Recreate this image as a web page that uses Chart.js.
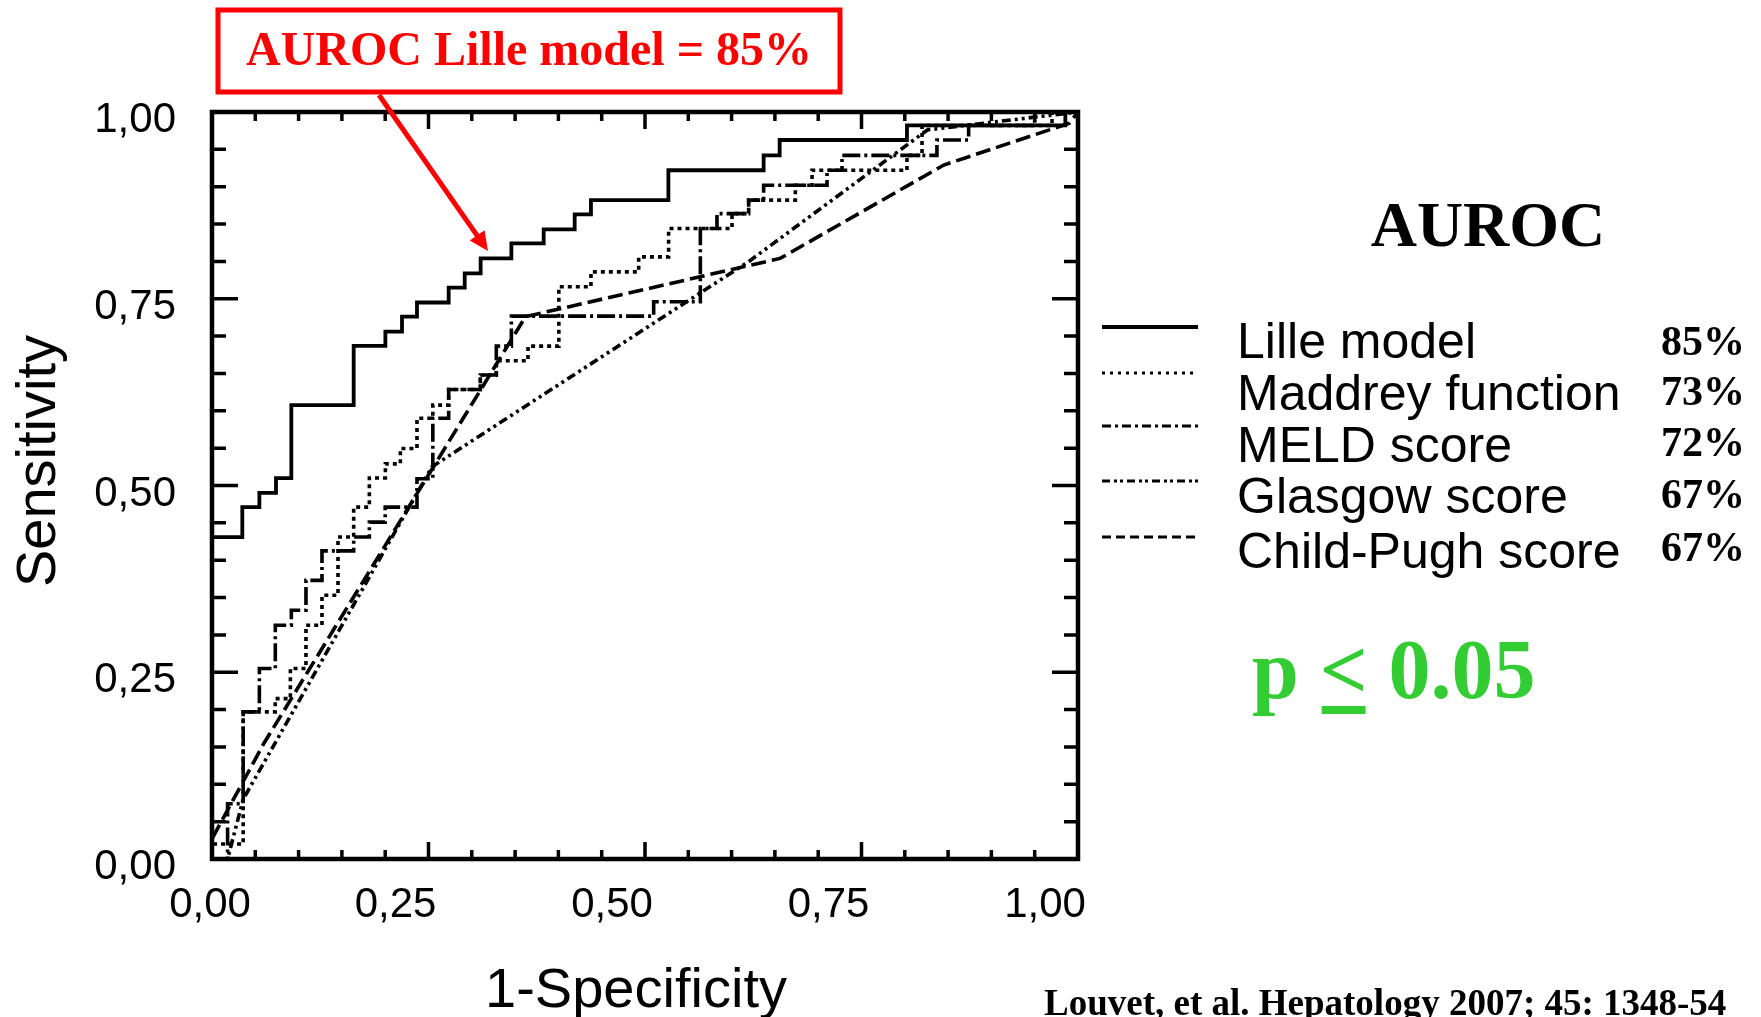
<!DOCTYPE html>
<html>
<head>
<meta charset="utf-8">
<script src="https://cdn.jsdelivr.net/npm/chart.js@4/dist/chart.umd.min.js"></script>
<style>
  html, body { margin: 0; padding: 0; background: #ffffff; }
  #wrap { width: 1761px; height: 1017px; position: relative; overflow: hidden; }
  canvas { display: block; }
</style>
</head>
<body>
<div id="wrap"><canvas id="c" width="1761" height="1017"></canvas></div>
<script>
// ---------- DATA ----------
const seriesNames = ['Lille model', 'Maddrey function', 'MELD score', 'Glasgow score', 'Child-Pugh score'];
const aurocValues = ['85%', '73%', '72%', '67%', '67%'];

const lilleFpr  = [0, 0, 0.035, 0.035, 0.0547, 0.0547, 0.0739, 0.0739, 0.0916, 0.0916, 0.1636, 0.1636, 0.2002, 0.2002, 0.2194, 0.2194, 0.2367, 0.2367, 0.2733, 0.2733, 0.2918, 0.2918, 0.3102, 0.3102, 0.3457, 0.3457, 0.383, 0.383, 0.4188, 0.4188, 0.4376, 0.4376, 0.527, 0.527, 0.637, 0.637, 0.6555, 0.6555, 0.8025, 0.8025, 0.9854, 0.9854, 1];
const lilleSens = [0, 0.431, 0.431, 0.471, 0.471, 0.490, 0.490, 0.510, 0.510, 0.6076, 0.6076, 0.687, 0.687, 0.706, 0.706, 0.726, 0.726, 0.745, 0.745, 0.765, 0.765, 0.784, 0.784, 0.804, 0.804, 0.824, 0.824, 0.843, 0.843, 0.863, 0.863, 0.882, 0.882, 0.922, 0.922, 0.942, 0.942, 0.9625, 0.9625, 0.982, 0.982, 1, 1];

const maddreyFpr  = [0, 0, 0.036, 0.036, 0.073, 0.073, 0.0905, 0.0905, 0.1085, 0.1085, 0.127, 0.127, 0.1455, 0.1455, 0.1636, 0.1636, 0.1817, 0.1817, 0.2002, 0.2002, 0.2175, 0.2175, 0.2367, 0.2367, 0.255, 0.255, 0.2733, 0.2733, 0.3098, 0.3098, 0.3283, 0.3283, 0.3649, 0.3649, 0.4005, 0.4005, 0.4376, 0.4376, 0.4927, 0.4927, 0.5273, 0.5273, 0.6005, 0.6005, 0.6197, 0.6197, 0.6736, 0.6736, 0.6929, 0.6929, 0.8025, 0.8025, 0.8199, 0.8199, 0.97, 0.97, 1];
const maddreySens = [0, 0.02, 0.02, 0.197, 0.197, 0.2147, 0.2147, 0.255, 0.255, 0.313, 0.313, 0.353, 0.353, 0.431, 0.431, 0.471, 0.471, 0.510, 0.510, 0.529, 0.529, 0.5496, 0.5496, 0.590, 0.590, 0.6076, 0.6076, 0.6286, 0.6286, 0.648, 0.648, 0.667, 0.667, 0.6866, 0.6866, 0.766, 0.766, 0.786, 0.786, 0.806, 0.806, 0.844, 0.844, 0.864, 0.864, 0.882, 0.882, 0.902, 0.902, 0.922, 0.922, 0.942, 0.942, 0.982, 0.982, 1, 1];

const meldFpr  = [0, 0.018, 0.018, 0.036, 0.036, 0.0547, 0.0547, 0.0731, 0.0731, 0.0916, 0.0916, 0.1085, 0.1085, 0.127, 0.127, 0.1636, 0.1636, 0.1817, 0.1817, 0.2, 0.2, 0.2367, 0.2367, 0.255, 0.255, 0.2733, 0.2733, 0.3098, 0.3098, 0.3283, 0.3283, 0.3457, 0.3457, 0.510, 0.510, 0.5639, 0.5639, 0.5831, 0.5831, 0.6197, 0.6197, 0.637, 0.637, 0.7102, 0.7102, 0.7275, 0.7275, 0.8371, 0.8371, 0.8737, 0.8737, 0.95, 0.95, 1];
const meldSens = [0, 0, 0.074, 0.074, 0.197, 0.197, 0.255, 0.255, 0.313, 0.313, 0.333, 0.333, 0.373, 0.373, 0.4125, 0.4125, 0.431, 0.431, 0.451, 0.451, 0.471, 0.471, 0.509, 0.509, 0.590, 0.590, 0.6286, 0.6286, 0.648, 0.648, 0.6866, 0.6866, 0.7268, 0.7268, 0.746, 0.746, 0.844, 0.844, 0.864, 0.864, 0.882, 0.882, 0.902, 0.902, 0.922, 0.922, 0.942, 0.942, 0.9625, 0.9625, 0.982, 0.982, 1, 1];

const glasgowFpr  = [0, 0.018, 0.036, 0.254, 0.62, 0.826, 1];
const glasgowSens = [0, 0, 0.08, 0.525, 0.80, 0.976, 1];

const childFpr  = [0, 0, 0.06, 0.362, 0.656, 0.845, 0.99, 1];
const childSens = [0, 0.027, 0.155, 0.726, 0.804, 0.929, 0.985, 1];

const tickValues = [0, 0.25, 0.5, 0.75, 1];
const tickLabels = ['0,00', '0,25', '0,50', '0,75', '1,00'];

// ---------- styles ----------
const SANS = '"Liberation Sans", Arial, sans-serif';
const SERIF = '"Liberation Serif", "Times New Roman", serif';
const plotDash   = [[], [4, 4], [18, 4, 3, 4], [9, 4, 3, 4, 3, 4], [15, 6]];
const legendDash = [[], [3, 5], [9, 4, 3, 4], [8, 4, 3, 3, 3, 4], [9, 5]];

function pts(xs, ys) { return xs.map((x, i) => ({ x: x, y: ys[i] })); }
const seriesData = [
  pts(lilleFpr, lilleSens),
  pts(maddreyFpr, maddreySens),
  pts(meldFpr, meldSens),
  pts(glasgowFpr, glasgowSens),
  pts(childFpr, childSens)
];

const overlay = {
  id: 'overlay',
  afterDraw(chart) {
    const ctx = chart.ctx;
    const a = chart.chartArea;
    const sx = chart.scales.x, sy = chart.scales.y;
    ctx.save();

    // frame
    ctx.strokeStyle = '#000';
    ctx.lineWidth = 4.5;
    ctx.strokeRect(a.left, a.top, a.right - a.left, a.bottom - a.top);

    // inward ticks on all four sides (minor every 0.05)
    ctx.lineWidth = 3.5;
    ctx.beginPath();
    for (let i = 1; i < 20; i++) {
      const v = i / 20;
      const major = (i % 5 === 0);
      const px = sx.getPixelForValue(v), py = sy.getPixelForValue(v);
      const lh = major ? 17 : 9, lv = major ? 26 : 14;
      ctx.moveTo(px, a.bottom); ctx.lineTo(px, a.bottom - lh);
      ctx.moveTo(px, a.top);    ctx.lineTo(px, a.top + lh);
      ctx.moveTo(a.left, py);   ctx.lineTo(a.left + lv, py);
      ctx.moveTo(a.right, py);  ctx.lineTo(a.right - lv, py);
    }
    ctx.stroke();

    // tick labels
    ctx.fillStyle = '#000';
    ctx.font = '42px ' + SANS;
    ctx.textBaseline = 'alphabetic';
    ctx.textAlign = 'right';
    tickValues.forEach((v, i) => {
      ctx.fillText(tickLabels[i], a.left - 36, sy.getPixelForValue(v) + 20);
    });
    ctx.textAlign = 'center';
    tickValues.forEach((v, i) => {
      const off = (v === 0) ? -2 : -33;
      ctx.fillText(tickLabels[i], sx.getPixelForValue(v) + off, 917);
    });

    // axis titles
    ctx.font = '56px ' + SANS;
    ctx.textAlign = 'center';
    ctx.fillText('1-Specificity', 636, 1007);
    ctx.save();
    ctx.translate(55, 461);
    ctx.rotate(-Math.PI / 2);
    ctx.fillText('Sensitivity', 0, 0);
    ctx.restore();

    // legend
    const lineY = [327, 373, 426, 481, 537];
    const textY = [358, 410, 462, 513, 568];
    const pctY  = [355, 405, 456, 508, 561];
    chart.data.datasets.forEach((ds, i) => {
      ctx.save();
      ctx.strokeStyle = '#000';
      ctx.lineWidth = i === 0 ? 3.8 : 3.2;
      ctx.setLineDash(legendDash[i]);
      ctx.beginPath();
      ctx.moveTo(1102, lineY[i]);
      ctx.lineTo(1198, lineY[i]);
      ctx.stroke();
      ctx.restore();
      ctx.font = '50px ' + SANS;
      ctx.textAlign = 'left';
      ctx.fillText(ds.label, 1237, textY[i]);
      ctx.font = 'bold 42px ' + SERIF;
      ctx.textAlign = 'right';
      ctx.fillText(aurocValues[i], 1745, pctY[i]);
    });

    // AUROC title
    ctx.font = 'bold 64px ' + SERIF;
    ctx.textAlign = 'center';
    ctx.fillText('AUROC', 1488, 246);

    // p <= 0.05 (green, underlined "<")
    ctx.fillStyle = '#33cc33';
    ctx.font = 'bold 84px ' + SERIF;
    ctx.textAlign = 'left';
    const pPart = 'p ';
    const ltPart = '<';
    const x0 = 1252;
    ctx.fillText(pPart + ltPart + ' 0.05', x0, 698);
    const wP = ctx.measureText(pPart).width;
    const wLt = ctx.measureText(ltPart).width;
    ctx.fillRect(x0 + wP + 2, 706, wLt - 4, 8);

    // citation
    ctx.fillStyle = '#000';
    ctx.font = 'bold 37px ' + SERIF;
    ctx.textAlign = 'left';
    ctx.fillText('Louvet, et al. Hepatology 2007; 45: 1348-54', 1044, 1015);

    // red annotation box
    ctx.strokeStyle = '#ff0000';
    ctx.fillStyle = '#ff0000';
    ctx.lineWidth = 5;
    ctx.strokeRect(218, 10, 622, 82);
    ctx.font = 'bold 48px ' + SERIF;
    ctx.textAlign = 'center';
    ctx.fillText('AUROC Lille model = 85%', 529, 65);

    // red arrow
    const sxA = 379, syA = 95, tx = 488, ty = 251;
    const dx = tx - sxA, dy = ty - syA, len = Math.hypot(dx, dy);
    const ux = dx / len, uy = dy / len, nx = -uy, ny = ux;
    const hl = 19, hw = 9;
    const bx = tx - ux * hl, by = ty - uy * hl;
    ctx.lineWidth = 5;
    ctx.beginPath();
    ctx.moveTo(sxA, syA);
    ctx.lineTo(bx + ux * 2, by + uy * 2);
    ctx.stroke();
    ctx.beginPath();
    ctx.moveTo(tx, ty);
    ctx.lineTo(bx + nx * hw, by + ny * hw);
    ctx.lineTo(bx - nx * hw, by - ny * hw);
    ctx.closePath();
    ctx.fill();

    ctx.restore();
  }
};

new Chart(document.getElementById('c'), {
  type: 'scatter',
  data: {
    datasets: seriesNames.map((name, i) => ({
      label: name,
      data: seriesData[i],
      showLine: true,
      borderColor: '#000000',
      backgroundColor: '#000000',
      borderWidth: i === 0 ? 3.8 : 3.6,
      borderDash: plotDash[i],
      borderCapStyle: 'butt',
      borderJoinStyle: 'miter',
      pointRadius: 0,
      pointHoverRadius: 0,
      tension: 0,
      fill: false
    }))
  },
  options: {
    responsive: false,
    animation: false,
    devicePixelRatio: 1,
    layout: { padding: { left: 212, right: 683, top: 112, bottom: 158 } },
    plugins: { legend: { display: false }, tooltip: { enabled: false }, title: { display: false } },
    scales: {
      x: { type: 'linear', min: 0, max: 1, display: false },
      y: { type: 'linear', min: 0, max: 1, display: false }
    }
  },
  plugins: [overlay]
});
</script>
</body>
</html>
